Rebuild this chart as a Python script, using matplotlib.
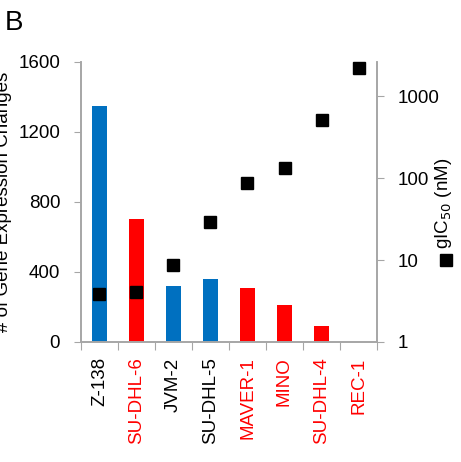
import numpy as np
import matplotlib.pyplot as plt
from matplotlib.lines import Line2D

plt.rcParams['font.family'] = ['Liberation Sans', 'DejaVu Sans']

# data
cell_lines = ["Z-138", "SU-DHL-6", "JVM-2", "SU-DHL-5", "MAVER-1", "MINO", "SU-DHL-4", "REC-1"]
gene_changes = [1350, 705, 320, 360, 310, 210, 90, 0]
gic50 = [3.8, 4.1, 8.8, 29, 87, 132, 510, 2200]
bar_colors = ["#0070C0", "#FF0000", "#0070C0", "#0070C0", "#FF0000", "#FF0000", "#FF0000", "#FF0000"]
label_colors = ["black", "red", "black", "black", "red", "red", "red", "red"]

gray = "#A6A6A6"
fs = 13.5

fig = plt.figure(figsize=(4.61, 4.62), dpi=100)
ax = fig.add_axes([81 / 461, 1 - 342 / 462, 296 / 461, 280 / 462])
x = np.arange(len(cell_lines))
ax.bar(x, gene_changes, width=0.41, color=bar_colors, zorder=2)
ax.set_xlim(-0.5, len(cell_lines) - 0.5)
ax.set_ylim(0, 1600)
ax.set_yticks([0, 400, 800, 1200, 1600])
ax.tick_params(axis='y', labelsize=fs, length=5, color=gray, direction='out', pad=10)

# category ticks on boundaries, labels at centers
ax.set_xticks(np.arange(-0.5, len(cell_lines)), minor=False)
ax.set_xticklabels([])
ax.set_xticks(x, minor=True)
ax.set_xticklabels(cell_lines, minor=True, rotation=90, fontsize=fs, va='top')
ax.tick_params(axis='x', which='major', length=6, color=gray)
ax.tick_params(axis='x', which='minor', length=0, pad=11)
for lbl, c in zip(ax.get_xticklabels(minor=True), label_colors):
    lbl.set_color(c)

for s in ["left", "bottom", "right"]:
    ax.spines[s].set_color(gray)
    ax.spines[s].set_linewidth(1.2)
ax.spines["top"].set_visible(False)

ax.set_ylabel("# of Gene Expression Changes", fontsize=fs)
ax.yaxis.set_label_coords(-0.233, 0.5)

ax2 = ax.twinx()
ax2.set_yscale('log')
ax2.set_ylim(1, 2600)
ax2.plot(x, gic50, ls='none', marker='s', ms=8, color='black', zorder=3, clip_on=False)
ax2.set_yticks([1, 10, 100, 1000])
ax2.set_yticklabels(["1", "10", "100", "1000"])
ax2.yaxis.set_minor_locator(plt.NullLocator())
ax2.tick_params(axis='y', labelsize=fs, length=5, color=gray, pad=10)
for s in ["left", "bottom", "right"]:
    ax2.spines[s].set_color(gray)
    ax2.spines[s].set_linewidth(1.2)
ax2.spines["top"].set_visible(False)

# legend-like label on the right
fig.text(443 / 461, 1 - 203 / 462, "gIC$_{50}$ (nM)", rotation=90, fontsize=fs,
         ha='center', va='center')
fig.add_artist(Line2D([446 / 461], [1 - 260 / 462], marker='s', ms=8, color='black',
                      ls='none', transform=fig.transFigure))

fig.text(5 / 461, 1 - 23 / 462, "B", fontsize=20, ha='left', va='center')

fig.savefig("out.png", dpi=100)
